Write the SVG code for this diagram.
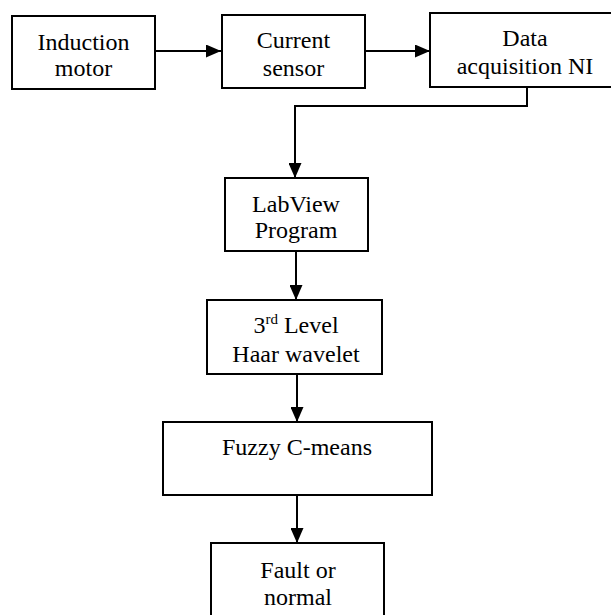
<svg xmlns="http://www.w3.org/2000/svg" width="611" height="615" viewBox="0 0 611 615">
<style>
.box{fill:#fff;stroke:#000;stroke-width:2}
text{font-family:'Liberation Serif',serif;font-size:24px;fill:#000;text-anchor:middle}
.c{fill:none;stroke:#000;stroke-width:2}
</style>
<defs>
<marker id="ah" markerWidth="15" markerHeight="13" refX="15" refY="6.5" orient="auto" markerUnits="userSpaceOnUse">
<path d="M0,0 L15,6.5 L0,13 Z" fill="#000"/>
</marker>
</defs>
<rect width="611" height="615" fill="#fff"/>
<g id="connectors">
<path class="c" d="M155,51 L221,51" marker-end="url(#ah)"/>
<path class="c" d="M365,51 L430,51" marker-end="url(#ah)"/>
<path class="c" d="M527,87 L527,106 L295,106 L295,178" marker-end="url(#ah)"/>
<path class="c" d="M296,251 L296,300" marker-end="url(#ah)"/>
<path class="c" d="M297,374 L297,422" marker-end="url(#ah)"/>
<path class="c" d="M297,495 L297,543" marker-end="url(#ah)"/>
</g>
<g id="induction-motor">
<rect class="box" x="12" y="16" width="143" height="73"/>
<text x="83.5" y="50" font-family="Liberation Serif">Induction</text>
<text x="83.5" y="76" font-family="Liberation Serif">motor</text>
</g>
<g id="current-sensor">
<rect class="box" x="222" y="15" width="143" height="73"/>
<text x="293.5" y="48" font-family="Liberation Serif">Current</text>
<text x="293.5" y="76" font-family="Liberation Serif">sensor</text>
</g>
<g id="data-acquisition">
<rect class="box" x="430" y="13" width="190" height="74"/>
<text x="525" y="46" font-family="Liberation Serif">Data</text>
<text x="525" y="74" font-family="Liberation Serif">acquisition NI</text>
</g>
<g id="labview">
<rect class="box" x="225" y="178" width="143" height="73"/>
<text x="296" y="212" font-family="Liberation Serif">LabView</text>
<text x="296" y="238" font-family="Liberation Serif">Program</text>
</g>
<g id="haar">
<rect class="box" x="207" y="300" width="175" height="74"/>
<text x="296" y="333" font-family="Liberation Serif">3<tspan font-size="15" dy="-9">rd</tspan><tspan dy="9"> Level</tspan></text>
<text x="296" y="362" font-family="Liberation Serif">Haar wavelet</text>
</g>
<g id="fuzzy">
<rect class="box" x="163" y="422" width="269" height="73"/>
<text x="297" y="455" font-family="Liberation Serif">Fuzzy C-means</text>
</g>
<g id="fault">
<rect class="box" x="211" y="543" width="173" height="80"/>
<text x="298" y="578" font-family="Liberation Serif">Fault or</text>
<text x="298" y="605" font-family="Liberation Serif">normal</text>
</g>
</svg>
